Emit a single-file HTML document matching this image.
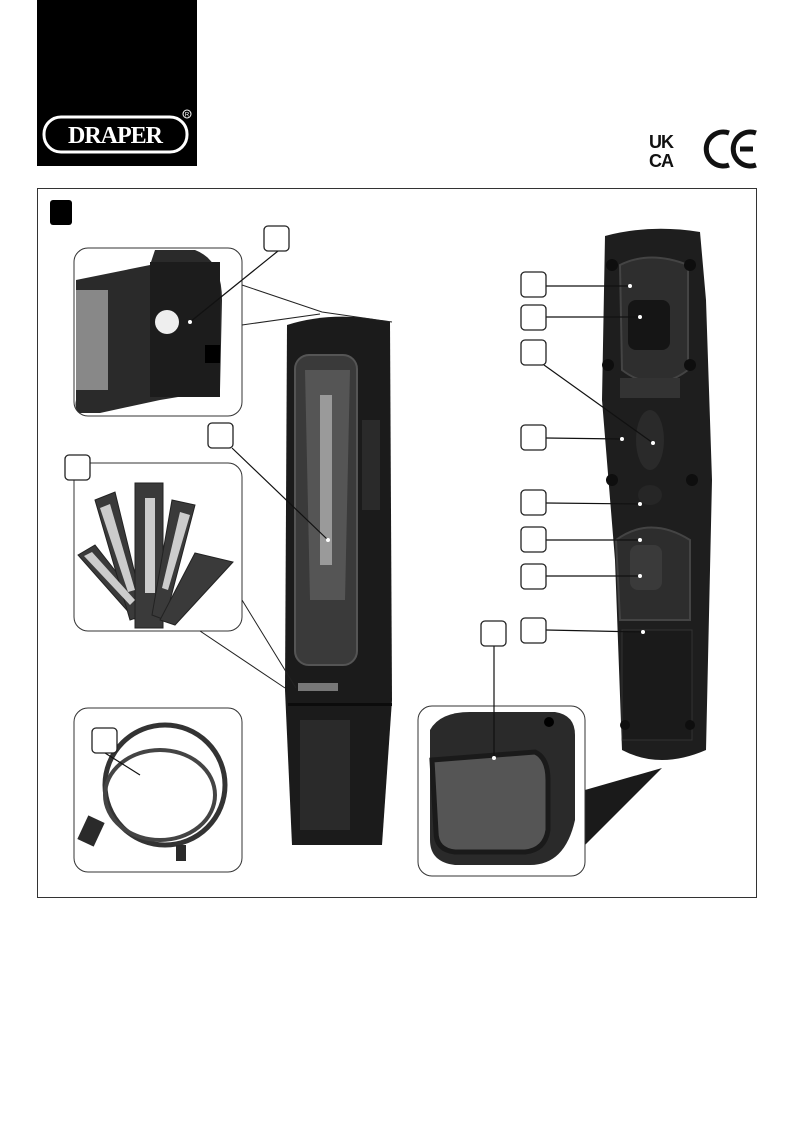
<!DOCTYPE html>
<html><head><meta charset="utf-8"><style>
html,body{margin:0;padding:0;background:#fff}
svg{display:block}
</style></head><body>
<svg width="794" height="1123" viewBox="0 0 794 1123" xmlns="http://www.w3.org/2000/svg" font-family="Liberation Serif, serif">
<rect x="37" y="0" width="160" height="166" fill="#000"/>
<rect x="44" y="117" width="143" height="35" rx="17" fill="none" stroke="#fff" stroke-width="3"/>
<text x="115" y="143" text-anchor="middle" fill="#fff" font-size="24" font-weight="bold" letter-spacing="-1">DRAPER</text>
<circle cx="187" cy="114" r="4" fill="none" stroke="#fff" stroke-width="1"/>
<text x="187" y="116.5" text-anchor="middle" fill="#fff" font-size="6" font-family="Liberation Sans,sans-serif">R</text>
<text x="649" y="148" font-family="Liberation Sans,sans-serif" font-weight="bold" font-size="18" fill="#111" letter-spacing="-1">UK</text>
<text x="649" y="167" font-family="Liberation Sans,sans-serif" font-weight="bold" font-size="18" fill="#111" letter-spacing="-1">CA</text>
<path d="M729 133 A17 17 0 1 0 729 165" fill="none" stroke="#111" stroke-width="5"/>
<path d="M756 133 A17 17 0 1 0 756 165 M740 149 L753 149" fill="none" stroke="#111" stroke-width="5"/>
<rect x="37.5" y="188.5" width="719" height="709" fill="none" stroke="#333" stroke-width="1"/>
<rect x="50" y="200" width="22" height="25" rx="3" fill="#000"/>

<path d="M605 236 Q650 224 700 232 L706 300 L712 480 L706 750 Q660 770 622 750 L615 560 L602 400 Z" fill="#1e1e1e"/>
<path d="M620 265 Q650 250 688 265 L688 370 Q655 395 622 370 Z" fill="#2e2e2e" stroke="#444" stroke-width="2"/>
<rect x="628" y="300" width="42" height="50" rx="8" fill="#151515"/>
<rect x="620" y="378" width="60" height="20" fill="#333"/>
<ellipse cx="650" cy="440" rx="14" ry="30" fill="#2a2a2a"/>
<ellipse cx="650" cy="495" rx="12" ry="10" fill="#262626"/>
<path d="M616 540 Q650 515 690 540 L690 620 L620 620 Z" fill="#2d2d2d" stroke="#444" stroke-width="2"/>
<rect x="630" y="545" width="32" height="45" rx="8" fill="#3a3a3a"/>
<rect x="622" y="630" width="70" height="110" fill="#1a1a1a" stroke="#333"/>
<g fill="#0e0e0e"><circle cx="612" cy="265" r="6"/><circle cx="690" cy="265" r="6"/><circle cx="608" cy="365" r="6"/><circle cx="690" cy="365" r="6"/><circle cx="612" cy="480" r="6"/><circle cx="692" cy="480" r="6"/><circle cx="625" cy="725" r="5"/><circle cx="690" cy="725" r="5"/></g>

<path d="M287 325 Q335 310 390 322 L392 700 L382 845 L292 845 L285 690 Z" fill="#1b1b1b"/>
<rect x="295" y="355" width="62" height="310" rx="14" fill="#3a3a3a" stroke="#555" stroke-width="2"/>
<path d="M305 370 L350 370 L345 600 L310 600 Z" fill="#555"/>
<rect x="320" y="395" width="12" height="170" fill="#9a9a9a"/>
<rect x="362" y="420" width="18" height="90" fill="#2a2a2a"/>
<rect x="298" y="683" width="40" height="8" fill="#777"/>
<rect x="288" y="703" width="104" height="3" fill="#0c0c0c"/>
<rect x="300" y="720" width="50" height="110" fill="#2a2a2a"/>

<rect x="74" y="248" width="168" height="168" rx="14" fill="#fff" stroke="#333"/>
<path d="M76 280 L150 265 L155 250 L195 250 Q222 260 222 300 L220 390 L160 400 L100 413 L80 413 Q74 410 76 400 Z" fill="#2a2a2a"/>
<rect x="76" y="290" width="32" height="100" fill="#888"/>
<rect x="150" y="262" width="70" height="135" fill="#1c1c1c"/>
<circle cx="167" cy="322" r="12" fill="#eee"/>
<rect x="205" y="345" width="15" height="18" fill="#000"/>
<path d="M242 285 L322 312 L392 322 M242 325 L320 314" fill="none" stroke="#222"/>

<rect x="74" y="463" width="168" height="168" rx="14" fill="#fff" stroke="#333"/>
<g fill="#3a3a3a" stroke="#222">
<path d="M78 555 L95 545 L150 615 L140 625 Z"/>
<path d="M95 500 L115 492 L145 615 L130 620 Z"/>
<rect x="135" y="483" width="28" height="145"/>
<path d="M172 500 L195 505 L165 620 L152 615 Z"/>
<path d="M195 553 L233 562 L175 625 L160 620 Z"/>
</g>
<g fill="#ccc"><rect x="145" y="498" width="10" height="95"/><path d="M100 508 L110 504 L135 590 L128 592Z"/><path d="M180 512 L190 515 L168 590 L162 588Z"/><path d="M84 556 L92 552 L135 600 L130 605Z"/></g>
<path d="M200 631 L285 688 M242 600 L296 688" fill="none" stroke="#222"/>

<rect x="74" y="708" width="168" height="164" rx="14" fill="#fff" stroke="#333"/>
<ellipse cx="165" cy="785" rx="60" ry="60" fill="none" stroke="#333" stroke-width="5"/>
<ellipse cx="160" cy="795" rx="55" ry="45" fill="none" stroke="#444" stroke-width="4"/>
<rect x="82" y="818" width="18" height="26" fill="#2a2a2a" transform="rotate(25 91 831)"/>
<rect x="176" y="845" width="10" height="16" fill="#2a2a2a"/>

<path d="M585 790 L662 768 L585 845 Z" fill="#1a1a1a"/>
<rect x="418" y="706" width="167" height="170" rx="14" fill="#fff" stroke="#333"/>
<path d="M430 730 Q440 712 470 712 L555 712 Q575 715 575 735 L575 820 Q565 865 530 865 L455 865 Q430 862 430 840 Z" fill="#2a2a2a"/>
<path d="M432 760 L535 752 Q548 758 548 780 L548 830 Q545 850 525 852 L455 852 Q436 850 436 832 Z" fill="#555" stroke="#1a1a1a" stroke-width="5"/>
<circle cx="549" cy="722" r="5" fill="#000"/>

<g stroke="#111" stroke-width="1.2" fill="none">
<line x1="278" y1="251" x2="190" y2="322"/>
<line x1="232" y1="448" x2="328" y2="540"/>
<line x1="546" y1="286" x2="630" y2="286"/>
<line x1="546" y1="317" x2="640" y2="317"/>
<line x1="544" y1="365" x2="653" y2="443"/>
<line x1="546" y1="438" x2="622" y2="439"/>
<line x1="546" y1="503" x2="640" y2="504"/>
<line x1="546" y1="540" x2="640" y2="540"/>
<line x1="546" y1="576" x2="640" y2="576"/>
<line x1="546" y1="630" x2="643" y2="632"/>
<line x1="494" y1="646" x2="494" y2="758"/>
<line x1="105" y1="753" x2="140" y2="775"/>
</g>
<g fill="#fff"><circle cx="630" cy="286" r="2"/><circle cx="640" cy="317" r="2"/><circle cx="653" cy="443" r="2"/><circle cx="622" cy="439" r="2"/><circle cx="640" cy="504" r="2"/><circle cx="640" cy="540" r="2"/><circle cx="640" cy="576" r="2"/><circle cx="643" cy="632" r="2"/><circle cx="190" cy="322" r="2"/><circle cx="328" cy="540" r="2"/><circle cx="494" cy="758" r="2"/></g>

<g fill="#fff" stroke="#222" stroke-width="1.3">
<rect x="264" y="226" width="25" height="25" rx="4"/>
<rect x="208" y="423" width="25" height="25" rx="4"/>
<rect x="65" y="455" width="25" height="25" rx="4"/>
<rect x="92" y="728" width="25" height="25" rx="4"/>
<rect x="521" y="272" width="25" height="25" rx="4"/>
<rect x="521" y="305" width="25" height="25" rx="4"/>
<rect x="521" y="340" width="25" height="25" rx="4"/>
<rect x="521" y="425" width="25" height="25" rx="4"/>
<rect x="521" y="490" width="25" height="25" rx="4"/>
<rect x="521" y="527" width="25" height="25" rx="4"/>
<rect x="521" y="564" width="25" height="25" rx="4"/>
<rect x="521" y="618" width="25" height="25" rx="4"/>
<rect x="481" y="621" width="25" height="25" rx="4"/>
</g>
</svg>
</body></html>
